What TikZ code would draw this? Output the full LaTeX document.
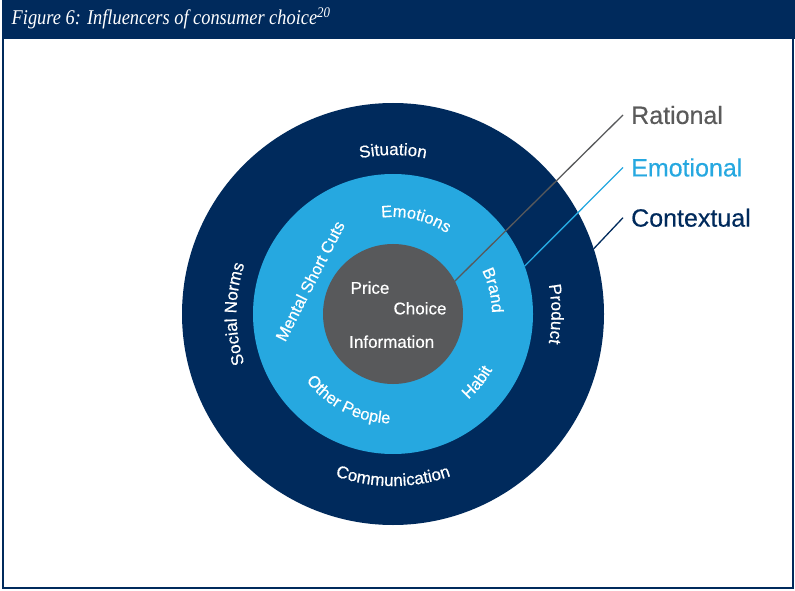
\documentclass[tikz,border=0pt]{standalone}
\usepackage{fontspec}
\usepackage{graphicx}
\setmainfont{Liberation Sans}[FakeBold=0.45]
\newfontfamily\titlefont{Liberation Serif}
\usetikzlibrary{decorations.text}
\definecolor{navy}{RGB}{0,42,92}
\definecolor{lblue}{RGB}{38,168,224}
\definecolor{dgrey}{RGB}{88,89,91}
\definecolor{tgrey}{RGB}{90,90,90}
\newcommand\ctxfont{\color{white}\fontsize{17}{17}\selectfont}
\newcommand\emofont{\color{white}\fontsize{16.5}{16.5}\selectfont}
\begin{document}
\begin{tikzpicture}[x=1pt,y=1pt,
  ring/.style={circle, inner sep=0pt, outer sep=0pt, minimum size=#1},
  inlabel/.style={text=white, inner sep=0pt, font=\fontsize{17}{17}\selectfont},
  legend/.style={anchor=west, inner sep=0pt, font=\fontsize{25}{25}\selectfont},
  leader/.style={line width=1.3pt}]
\useasboundingbox (0,0) rectangle (795,590);
% frame and title bar
\draw[navy, line width=2.5pt] (3,2) rectangle (793,589);
\fill[navy] (2,551) rectangle (795,590);
\node[anchor=base west, inner sep=0pt, text=white] (title) at (11.5,565)
  {\titlefont\itshape\fontsize{21}{21}\selectfont\scalebox{0.875}[1]{Figure 6: Influencers of consumer choice\textsuperscript{20}}};
% circles
\coordinate (C) at (393,276);
\node[ring=422pt, fill=navy] (outer) at (C) {};
\node[ring=280pt, fill=lblue] (middle) at (C) {};
\node[ring=140pt, fill=dgrey] (inner) at (C) {};
% contextual labels
\path[decorate, decoration={text along path, text align=center, text={|\ctxfont|Situation}}]
  (C) ++(135:159) arc[start angle=135, end angle=45, radius=159];
\path[decorate, decoration={text along path, text align=center, text={|\ctxfont|Communication}}]
  (C) ++(225:172) arc[start angle=225, end angle=315, radius=172];
\path[decorate, decoration={text along path, text align=center, text={|\ctxfont|Social Norms}}]
  (C) ++(225:156.5) arc[start angle=225, end angle=135, radius=156.5];
\path[decorate, decoration={text along path, text align=center, text={|\ctxfont|Product}}]
  (C) ++(45:158.5) arc[start angle=45, end angle=-45, radius=158.5];
% emotional labels
\path[decorate, decoration={text along path, text align=center, text={|\emofont|Emotions}}]
  (C) ++(121.5:97) arc[start angle=121.5, end angle=31.5, radius=97];
\path[decorate, decoration={text along path, text align=center, text={|\emofont|Brand}}]
  (C) ++(58.3:99) arc[start angle=58.3, end angle=-31.7, radius=99];
\path[decorate, decoration={text along path, text align=center, text={|\emofont|Habit}}]
  (C) ++(-84:114) arc[start angle=-84, end angle=6, radius=114];
\path[decorate, decoration={text along path, text align=center, text={|\emofont|Other People}}]
  (C) ++(198:109.5) arc[start angle=198, end angle=288, radius=109.5];
\node[inlabel, font=\fontsize{16.5}{16.5}\selectfont, rotate=63] (msc) at (310,309) {Mental Short Cuts};
% rational labels
\node[inlabel] (price) at (370,302.3) {Price};
\node[inlabel] (choice) at (420,281.7) {Choice};
\node[inlabel] (info) at (391.7,248.3) {Information};
% legend
\node[legend, text=tgrey] (rat) at (631,475) {Rational};
\node[legend, text=lblue] (emo) at (631,422.5) {Emotional};
\node[legend, text=navy] (ctx) at (631,372.3) {Contextual};
\draw[leader, dgrey] (inner.28.4) -- ([xshift=-8pt]rat.west);
\draw[leader, lblue] (middle.20.4) -- ([xshift=-8pt]emo.west);
\draw[leader, navy] (outer.18.4) -- ([xshift=-8pt]ctx.west);
\end{tikzpicture}
\end{document}
